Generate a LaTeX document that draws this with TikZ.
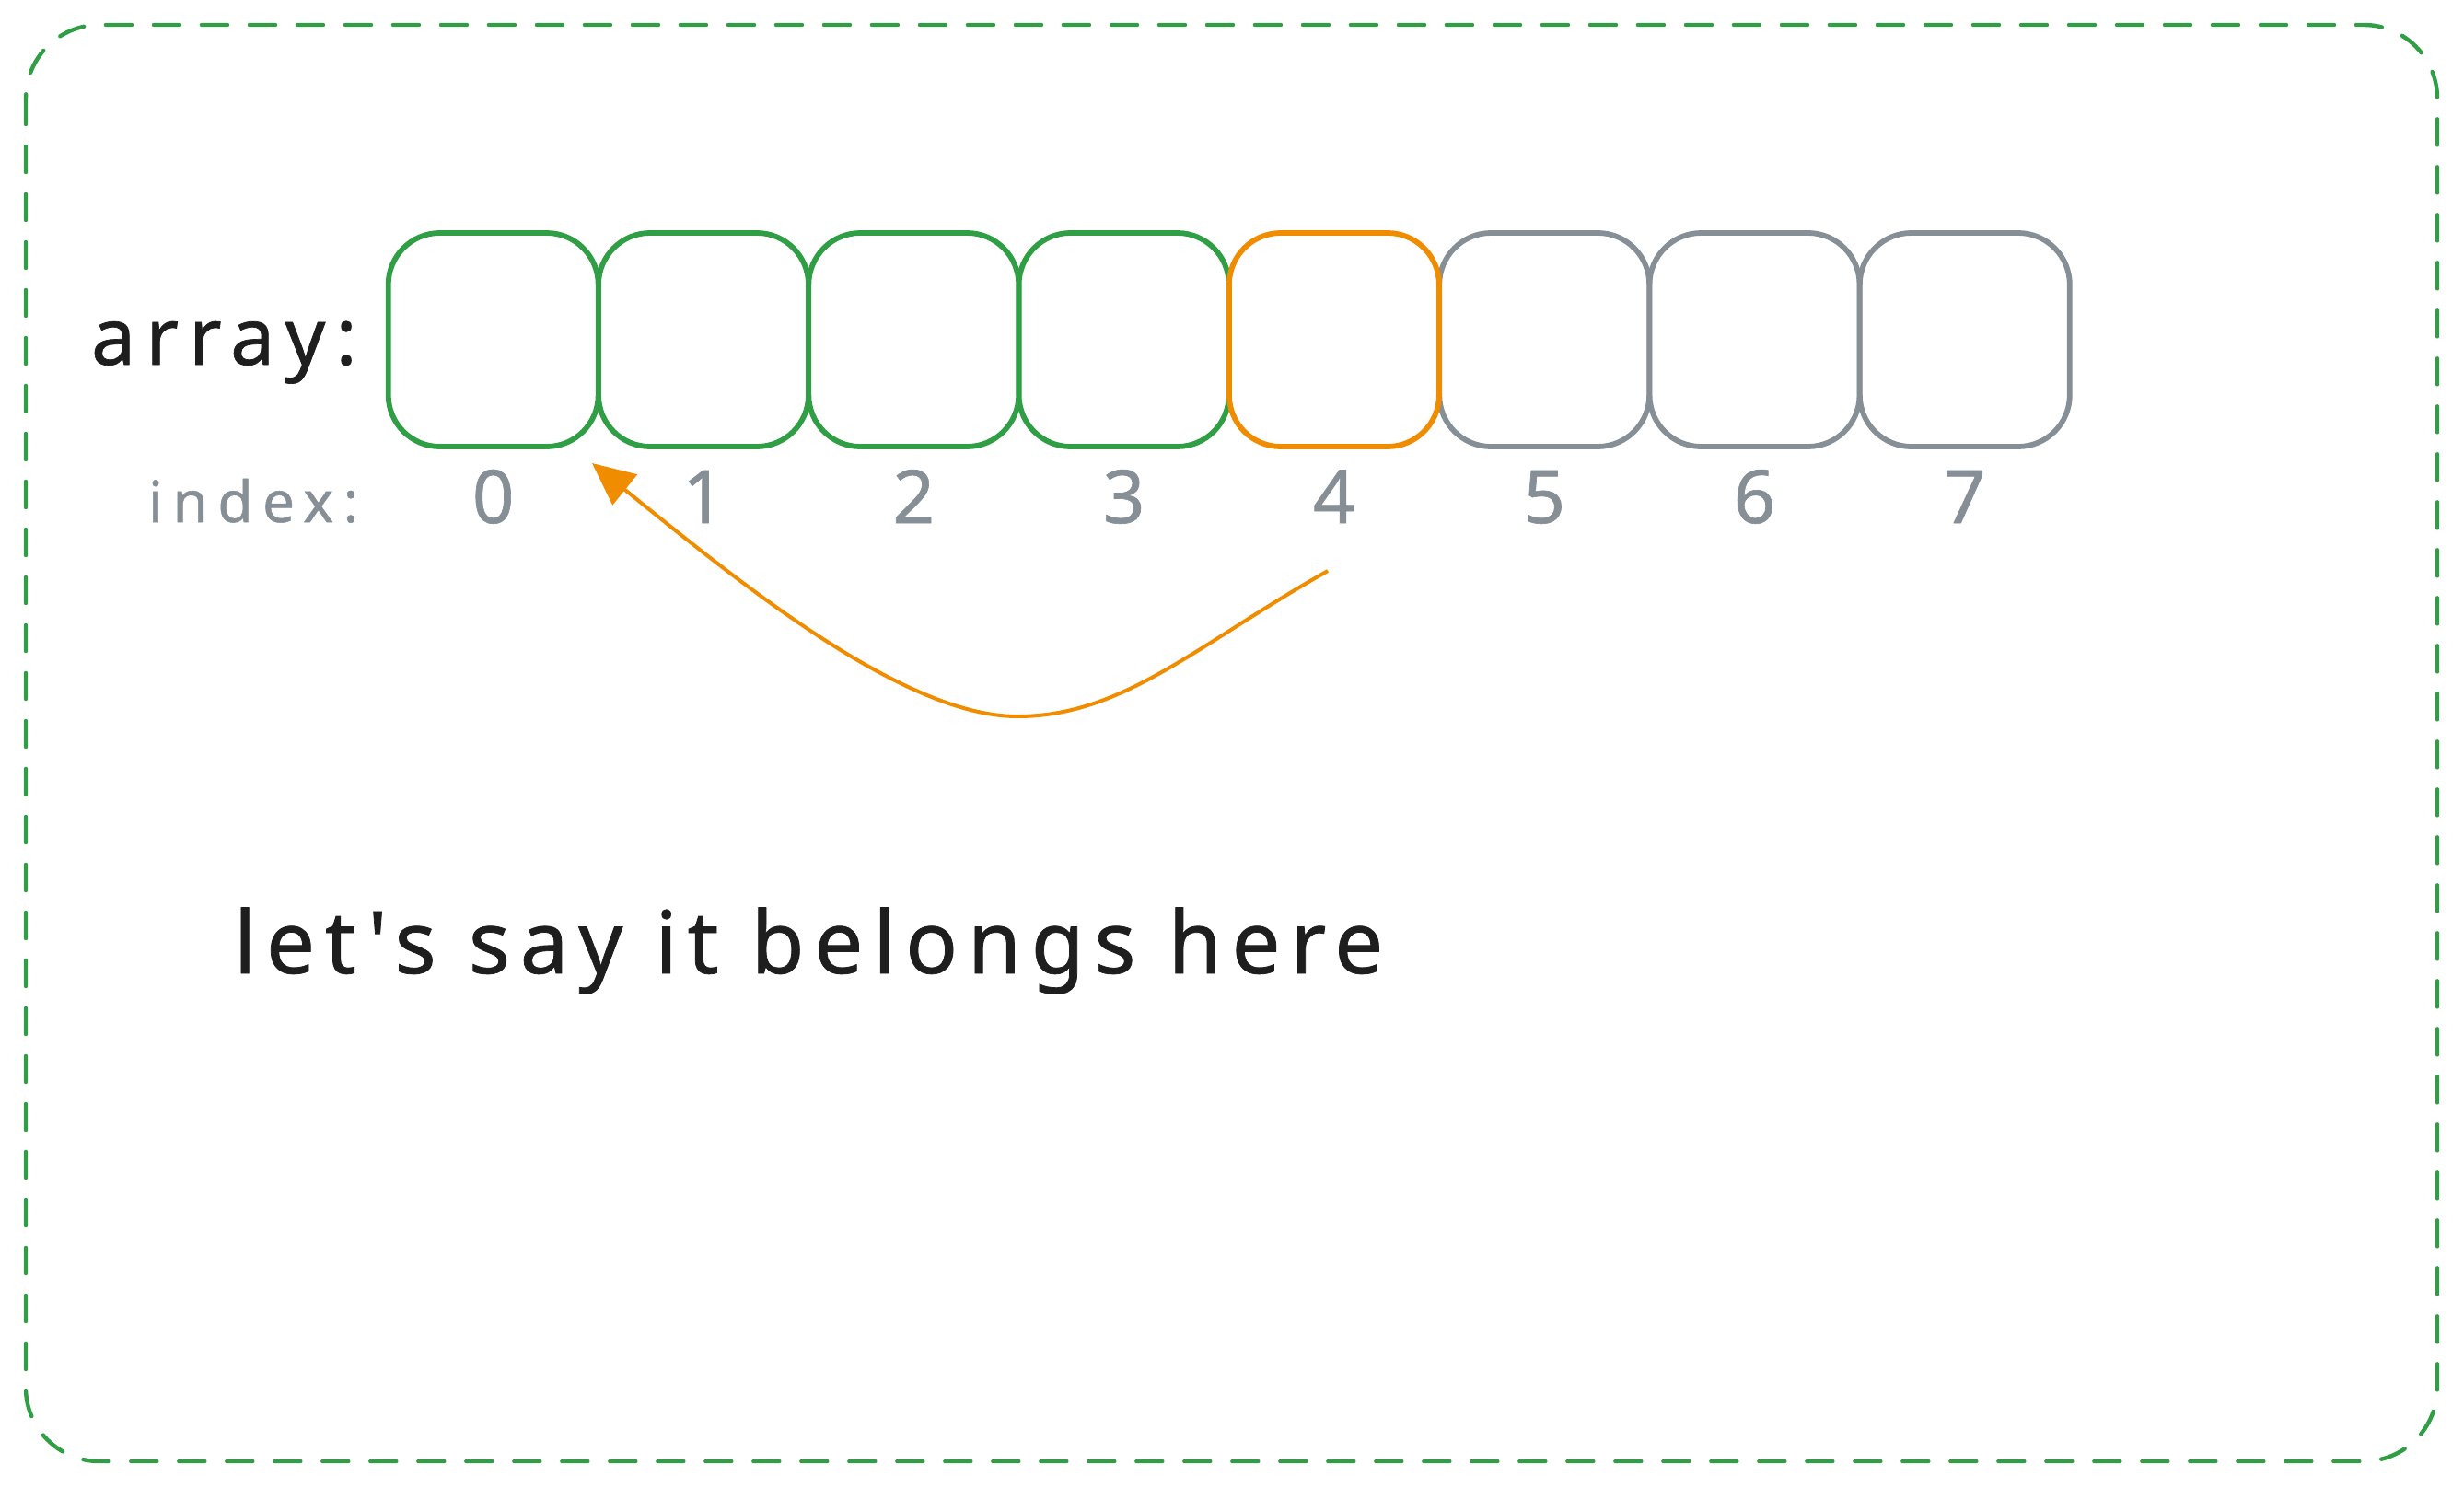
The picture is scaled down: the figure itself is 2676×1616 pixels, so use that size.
\documentclass[tikz,border=0pt]{standalone}
\usepackage{fontspec}
\setmainfont{Noto Sans}
\newfontfamily\handfont[LetterSpace=10,FakeBold=0.8]{Noto Sans}
\usetikzlibrary{arrows.meta}
\definecolor{exgreen}{HTML}{2F9E44}
\definecolor{exorange}{HTML}{F08C00}
\definecolor{exgray}{HTML}{868E96}
\definecolor{exblack}{HTML}{1E1E1E}
\begin{document}
\begin{tikzpicture}[x=0.5pt,y=-0.5pt,
  cell/.style={draw, line width=2.9pt, rounded corners=28pt, minimum width=114pt, minimum height=116pt, inner sep=0pt},
  txt/.style={inner sep=0pt, outer sep=0pt, text=exblack},
  digit/.style={inner sep=0pt, outer sep=0pt, text=exgray, anchor=base, font=\handfont\fontsize{40}{48}\selectfont},
  arrowline/.style={exorange, line width=2pt, -{Triangle[length=23pt,width=21pt]}},
  frame/.style={exgreen, line width=2.2pt, dash pattern=on 14pt off 12pt, line cap=round, rounded corners=40pt}
 ]
\useasboundingbox (0,0) rectangle (2676,1616);
\draw[frame] (28,27) rectangle (2647,1587);

% cells
\foreach \i/\c in {0/exgreen,1/exgreen,2/exgreen,3/exgreen,5/exgray,6/exgray,7/exgray,4/exorange}{
  \node[cell, draw=\c] (c\i) at ({535.7+228.3*\i},369) {};
}
% index digits
\foreach \i in {0,...,7}{
  \node[digit] (d\i) at ({535.7+228.3*\i},568) {\i};
}

\node[txt, anchor=base west, font=\handfont\addfontfeature{LetterSpace=13}\fontsize{43}{52}\selectfont] (arr) at (99,396) {array:};
\node[txt, anchor=base west, text=exgray, font=\handfont\addfontfeature{LetterSpace=17}\fontsize{31}{38}\selectfont] (idx) at (161,567) {index:};
\node[txt, anchor=base west, font=\handfont\addfontfeature{LetterSpace=11.5}\fontsize{47}{56}\selectfont] (note) at (254,1057) {let's say it belongs here};

\coordinate (as) at (1442,620);
\coordinate (am) at (1105,778);
\coordinate (at) at (643,503);
\draw[arrowline] (as) .. controls (1300,700) and (1220,778) .. (am) .. controls (980,778) and (800,630) .. (at);
\end{tikzpicture}
\end{document}
